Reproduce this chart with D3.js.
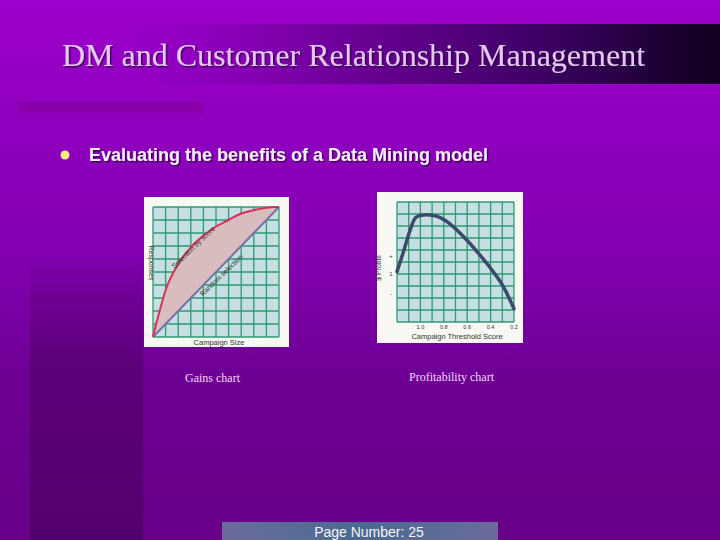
<!DOCTYPE html>
<html>
<head>
<meta charset="utf-8">
<script src="https://cdn.jsdelivr.net/npm/d3@7"></script>
<style>
  html, body { margin: 0; padding: 0; background: #660088; }
  svg { display: block; }
</style>
</head>
<body>
<div id="slide"></div>
<script>
// gains chart: cumulative responses vs campaign size (fractions)
const gainsX = [0, 0.02, 0.05, 0.1, 0.2, 0.3, 0.4, 0.5, 0.6, 0.7, 0.8, 0.9, 1];
const gainsY = [0, 0.08, 0.19, 0.36, 0.56, 0.69, 0.78, 0.85, 0.9, 0.95, 0.975, 0.995, 1];

// profitability chart: profit vs threshold position (fractions of plot)
const profitX = [0, 0.06, 0.11, 0.16, 0.21, 0.3, 0.37, 0.45, 0.59, 0.69, 0.79, 0.9, 1];
const profitY = [0.42, 0.6, 0.76, 0.87, 0.89, 0.89, 0.87, 0.82, 0.69, 0.58, 0.46, 0.31, 0.11];
const profitTicks = [0.2, 0.4, 0.6, 0.8, 1];
const profitTickLabels = ["1.0", "0.8", "0.6", "0.4", "0.2"];
const profitYTicks = [0.55, 0.4, 0.23];
const profitYLabels = ["+", "1", "-"];

const W = 720, H = 540;
const svg = d3.select('#slide').append('svg').attr('width', W).attr('height', H);
const defs = svg.append('defs');

let bg = defs.append('linearGradient').attr('id', 'bg').attr('x1', 0).attr('y1', 0).attr('x2', 0).attr('y2', 1);
bg.append('stop').attr('offset', 0).attr('stop-color', '#9c00cc');
bg.append('stop').attr('offset', 0.45).attr('stop-color', '#8400b2');
bg.append('stop').attr('offset', 0.7).attr('stop-color', '#6e0094');
bg.append('stop').attr('offset', 1).attr('stop-color', '#680088');

let band = defs.append('linearGradient').attr('id', 'band').attr('x1', 0).attr('y1', 0).attr('x2', 0).attr('y2', 1);
band.append('stop').attr('offset', 0).attr('stop-color', '#560070').attr('stop-opacity', 0);
band.append('stop').attr('offset', 0.4).attr('stop-color', '#560070').attr('stop-opacity', 0.75);
band.append('stop').attr('offset', 1).attr('stop-color', '#52006c').attr('stop-opacity', 1);

let tb = defs.append('linearGradient').attr('id', 'titlebar').attr('x1', 0).attr('y1', 0).attr('x2', 1).attr('y2', 0);
tb.append('stop').attr('offset', 0).attr('stop-color', '#9000c0').attr('stop-opacity', 0);
tb.append('stop').attr('offset', 0.3).attr('stop-color', '#7a00a6');
tb.append('stop').attr('offset', 0.7).attr('stop-color', '#3e0066');
tb.append('stop').attr('offset', 1).attr('stop-color', '#10001e');

let pg = defs.append('linearGradient').attr('id', 'pagebox').attr('x1', 0).attr('y1', 0).attr('x2', 1).attr('y2', 0);
pg.append('stop').attr('offset', 0).attr('stop-color', '#6a6c9c');
pg.append('stop').attr('offset', 0.5).attr('stop-color', '#4a6a90');
pg.append('stop').attr('offset', 1).attr('stop-color', '#6a6c9c');

let sh = defs.append('filter').attr('id', 'shadow').attr('x', -0.05).attr('y', -0.2).attr('width', 1.1).attr('height', 1.5);
sh.append('feDropShadow').attr('dx', 1.5).attr('dy', 1.5).attr('stdDeviation', 0.6)
  .attr('flood-color', '#2a0040').attr('flood-opacity', 0.8);

svg.append('rect').attr('width', W).attr('height', H).attr('fill', 'url(#bg)');
svg.append('rect').attr('x', 30).attr('y', 250).attr('width', 113).attr('height', 290).attr('fill', 'url(#band)');
svg.append('rect').attr('x', 110).attr('y', 24).attr('width', 610).attr('height', 60).attr('fill', 'url(#titlebar)');
svg.append('rect').attr('x', 18).attr('y', 102).attr('width', 186).attr('height', 11).attr('fill', '#8a00a8');

svg.append('text').attr('x', 62).attr('y', 66)
  .attr('font-family', '"Liberation Serif", "Times New Roman", serif').attr('font-size', 32)
  .attr('fill', '#e6c6f2').attr('filter', 'url(#shadow)')
  .text('DM and Customer Relationship Management');

svg.append('circle').attr('cx', 65).attr('cy', 155).attr('r', 4.5).attr('fill', '#f4f080');
svg.append('text').attr('x', 89).attr('y', 161)
  .attr('font-family', '"Liberation Sans", Arial, sans-serif').attr('font-size', 18).attr('font-weight', 'bold')
  .attr('fill', '#f4ecf8').attr('filter', 'url(#shadow)')
  .text('Evaluating the benefits of a Data Mining model');

function gridBox(g, x, y, w, h) {
  let sx = d3.scaleLinear().domain([0, 1]).range([x, x + w]);
  let sy = d3.scaleLinear().domain([0, 1]).range([y + h, y]);
  g.append('rect').attr('x', x).attr('y', y).attr('width', w).attr('height', h).attr('fill', '#c6dfe2');
  let t = d3.range(0, 11).map(i => i / 10);
  g.selectAll('line.v').data(t).join('line').attr('class', 'v')
    .attr('x1', d => sx(d)).attr('x2', d => sx(d)).attr('y1', y).attr('y2', y + h)
    .attr('stroke', '#2f9a74').attr('stroke-width', 1.3);
  g.selectAll('line.h').data(t).join('line').attr('class', 'h')
    .attr('y1', d => sy(d)).attr('y2', d => sy(d)).attr('x1', x).attr('x2', x + w)
    .attr('stroke', '#2f9a74').attr('stroke-width', 1.3);
  return {sx, sy};
}

// gains chart
let g1 = svg.append('g');
g1.append('rect').attr('x', 144).attr('y', 197).attr('width', 145).attr('height', 150).attr('fill', '#f8f8f4');
let s1 = gridBox(g1, 153, 207, 126, 130);
let gains = gainsX.map((x, i) => ({x, y: gainsY[i]}));
g1.append('path').datum(gains)
  .attr('d', d3.area().x(d => s1.sx(d.x)).y0(d => s1.sy(d.x)).y1(d => s1.sy(d.y)).curve(d3.curveMonotoneX))
  .attr('fill', '#d9bcbe');
g1.append('line').attr('x1', s1.sx(0)).attr('y1', s1.sy(0)).attr('x2', s1.sx(1)).attr('y2', s1.sy(1))
  .attr('stroke', '#7a70a8').attr('stroke-width', 2);
g1.append('path').datum(gains)
  .attr('d', d3.line().x(d => s1.sx(d.x)).y(d => s1.sy(d.y)).curve(d3.curveMonotoneX))
  .attr('fill', 'none').attr('stroke', '#d8305a').attr('stroke-width', 2);
g1.append('text').attr('transform', 'translate(195,249) rotate(-44)').attr('text-anchor', 'middle')
  .attr('font-family', '"Liberation Sans", Arial, sans-serif').attr('font-size', 7).attr('fill', '#333')
  .text('Selection by score');
g1.append('text').attr('transform', 'translate(223,277) rotate(-44)').attr('text-anchor', 'middle')
  .attr('font-family', '"Liberation Sans", Arial, sans-serif').attr('font-size', 7).attr('fill', '#333')
  .text('Random selection');
g1.append('text').attr('transform', 'translate(149,263) rotate(90)').attr('text-anchor', 'middle')
  .attr('font-family', '"Liberation Sans", Arial, sans-serif').attr('font-size', 7).attr('fill', '#333')
  .text('Responses');
g1.append('text').attr('x', 219).attr('y', 345).attr('text-anchor', 'middle')
  .attr('font-family', '"Liberation Sans", Arial, sans-serif').attr('font-size', 7.5).attr('fill', '#333')
  .text('Campaign Size');

// profitability chart
let g2 = svg.append('g');
g2.append('rect').attr('x', 377).attr('y', 192).attr('width', 146).attr('height', 151).attr('fill', '#f8f8f4');
let s2 = gridBox(g2, 397, 202, 117, 120);
let profit = profitX.map((x, i) => ({x, y: profitY[i]}));
g2.append('path').datum(profit)
  .attr('d', d3.line().x(d => s2.sx(d.x)).y(d => s2.sy(d.y)).curve(d3.curveCatmullRom.alpha(0.5)))
  .attr('fill', 'none').attr('stroke', '#3c4a6a').attr('stroke-width', 3.5).attr('stroke-linecap', 'round');
g2.selectAll('text.xt').data(profitTicks).join('text').attr('class', 'xt')
  .attr('x', d => s2.sx(d)).attr('y', 329).attr('text-anchor', 'middle')
  .attr('font-family', '"Liberation Sans", Arial, sans-serif').attr('font-size', 5.5).attr('fill', '#333')
  .text((d, i) => profitTickLabels[i]);
g2.selectAll('text.yt').data(profitYTicks).join('text').attr('class', 'yt')
  .attr('x', 391).attr('y', d => s2.sy(d) + 2).attr('text-anchor', 'middle')
  .attr('font-family', '"Liberation Sans", Arial, sans-serif').attr('font-size', 6).attr('fill', '#333')
  .text((d, i) => profitYLabels[i]);
g2.append('text').attr('transform', 'translate(381,268) rotate(-90)').attr('text-anchor', 'middle')
  .attr('font-family', '"Liberation Sans", Arial, sans-serif').attr('font-size', 7).attr('fill', '#333')
  .text('$ Profits');
g2.append('text').attr('x', 457).attr('y', 339).attr('text-anchor', 'middle')
  .attr('font-family', '"Liberation Sans", Arial, sans-serif').attr('font-size', 7.5).attr('fill', '#333')
  .text('Campaign Threshold Score');

// captions
svg.append('text').attr('x', 185).attr('y', 382)
  .attr('font-family', '"Liberation Serif", "Times New Roman", serif').attr('font-size', 12)
  .attr('fill', '#eed8f4').text('Gains chart');
svg.append('text').attr('x', 409).attr('y', 381)
  .attr('font-family', '"Liberation Serif", "Times New Roman", serif').attr('font-size', 12)
  .attr('fill', '#eed8f4').text('Profitability chart');

// page number
svg.append('rect').attr('x', 222).attr('y', 522).attr('width', 276).attr('height', 18).attr('fill', 'url(#pagebox)');
svg.append('text').attr('x', 369).attr('y', 537).attr('text-anchor', 'middle')
  .attr('font-family', '"Liberation Sans", Arial, sans-serif').attr('font-size', 14)
  .attr('fill', '#f4f4fa').text('Page Number: 25');
</script>
</body>
</html>
